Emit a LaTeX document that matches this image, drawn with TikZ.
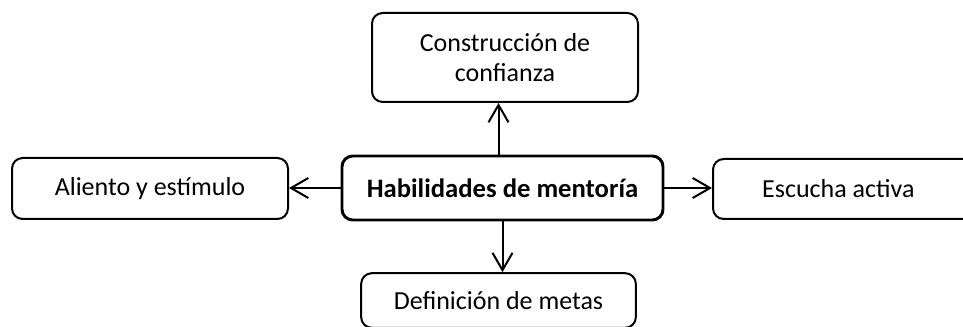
\documentclass[tikz,border=0pt]{standalone}
\usepackage{fontspec}
\setmainfont{Carlito}
\usepackage{tikz}
\usetikzlibrary{arrows.meta, positioning}
\tikzset{
  % Box styles
  skillbox/.style={rectangle, rounded corners=8pt, draw=black, line width=1.5pt, fill=white, font=\fontsize{19.5}{23}\selectfont, align=center, inner sep=0pt},
  mainbox/.style={skillbox, line width=2.2pt, font=\fontsize{20}{23}\selectfont\bfseries},
  % Arrow styles
  arrow/.style={-{Straight Barb[length=13pt, width=15pt, line width=1.5pt]}, line width=1.5pt, black}
}

\begin{document}
\begin{tikzpicture}[x=0.75pt, y=-0.75pt]
  \useasboundingbox (0,0) rectangle (963,327);

  % Central box
  \node[mainbox, minimum width=240.75pt, minimum height=48pt] (hab) at (502.5,188) {Habilidades de mentoría};

  % Surrounding boxes
  \node[skillbox, minimum width=199.5pt, minimum height=66.75pt] (conf) at (505,57.5) {Construcción de\\confianza};
  \node[skillbox, minimum width=207pt, minimum height=45.75pt] (alien) at (150,188.5) {Aliento y estímulo};
  \node[skillbox, minimum width=210pt, minimum height=45pt, anchor=west] (escu) at (712,189) {\hspace*{-22pt}Escucha activa};
  \node[skillbox, minimum width=206pt, minimum height=41pt] (metas) at (498.5,300.5) {Definición de metas};

  % Arrows
  \draw[arrow] ([xshift=-3pt]hab.north) -- ([xshift=-3pt]hab.north |- conf.south);
  \draw[arrow] (hab.west) -- (hab.west -| alien.east);
  \draw[arrow] (hab.east) -- (hab.east -| escu.west);
  \draw[arrow] (hab.south) -- (hab.south |- metas.north);
\end{tikzpicture}
\end{document}
